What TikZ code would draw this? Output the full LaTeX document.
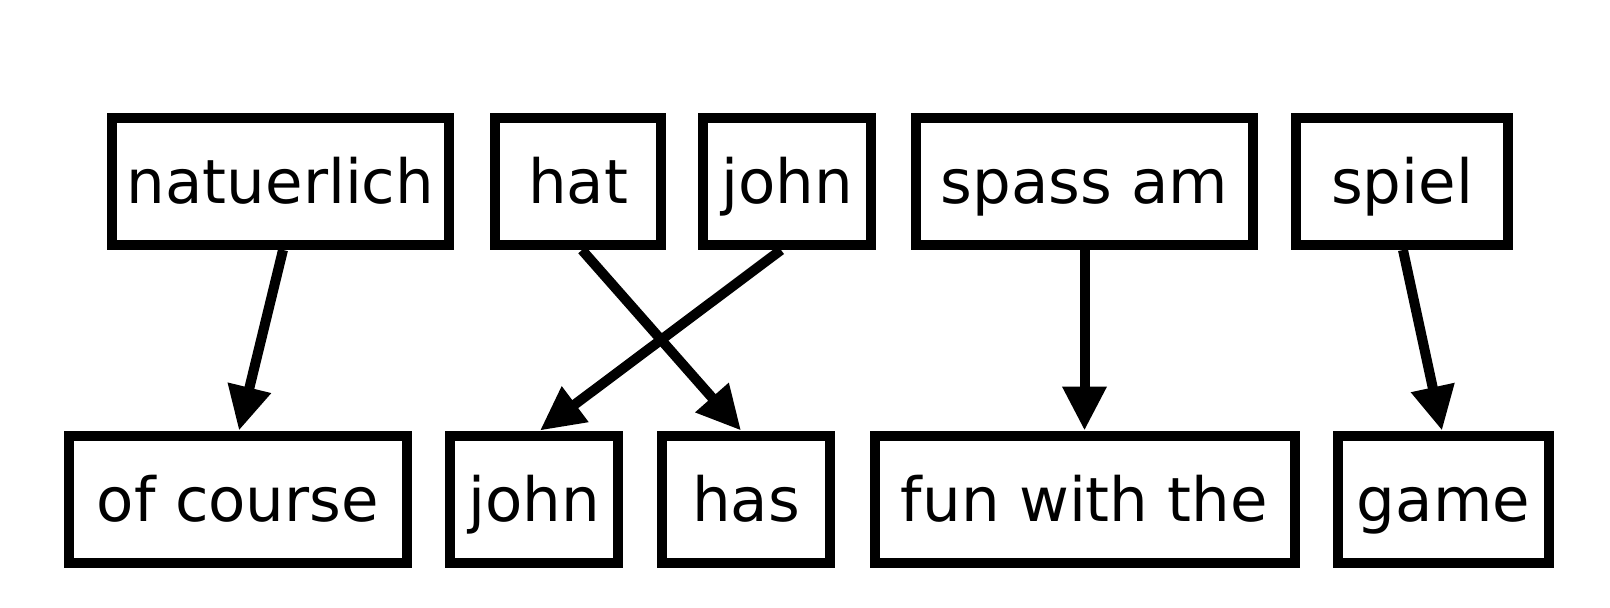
\documentclass[tikz,border=0pt]{standalone}
\usepackage{fontspec}
\setmainfont{DejaVu Sans}
\usetikzlibrary{arrows.meta}
\begin{document}
\begin{tikzpicture}[x=1pt,y=-1pt,
  box/.style={draw, line width=10pt, inner sep=0pt, text height=56pt, text depth=12pt,
    minimum height=127pt, font=\fontsize{61}{70}\selectfont},
  edge/.style={line width=10pt, -{Triangle[length=44pt,width=42pt]}}]
\useasboundingbox (0,0) rectangle (1610,608);
% top row
\node[box, minimum width=337pt] (natuerlich) at (280.5,181.5) {natuerlich};
\node[box, minimum width=166pt] (hat) at (578,181.5) {hat};
\node[box, minimum width=168pt] (johnde) at (787,181.5) {john};
\node[box, minimum width=337pt] (spass) at (1084.5,181.5) {spass am};
\node[box, minimum width=212pt] (spiel) at (1402,181.5) {spiel};
% bottom row
\node[box, minimum width=338pt] (ofcourse) at (238,499) {of course};
\node[box, minimum width=168pt] (johnen) at (534,499) {john};
\node[box, minimum width=168pt] (has) at (746,499) {has};
\node[box, minimum width=420pt] (fun) at (1084.5,499) {fun with the};
\node[box, minimum width=211pt] (game) at (1443.5,499) {game};
% edges
\draw[edge] ([xshift=2.5pt]natuerlich.south) -- ([xshift=1pt]ofcourse.north);
\draw[edge] ([xshift=4pt]hat.south) -- ([xshift=-5pt]has.north);
\draw[edge] ([xshift=-6pt]johnde.south) -- ([xshift=6pt]johnen.north);
\draw[edge] (spass.south) -- (fun.north);
\draw[edge] ([xshift=1pt]spiel.south) -- ([xshift=-1.5pt]game.north);
\end{tikzpicture}
\end{document}
